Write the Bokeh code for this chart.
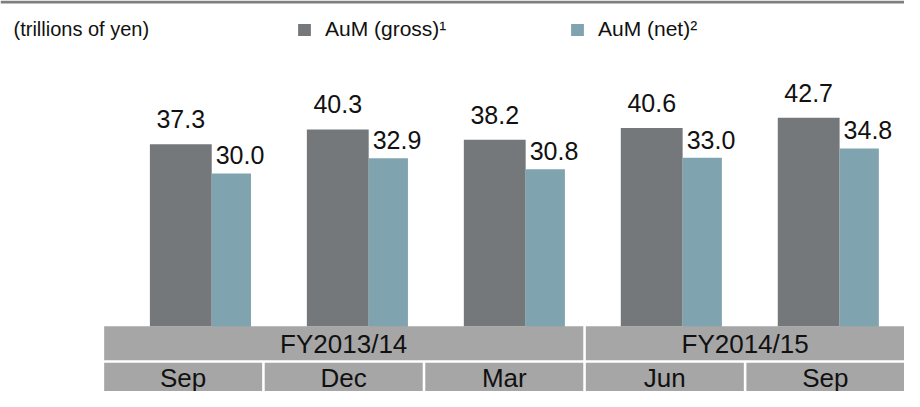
import numpy as np
from bokeh.plotting import figure
from bokeh.models import (ColumnDataSource, Range1d, LabelSet, Label, Legend,
                          LegendItem, Span)
from bokeh.core.properties import value
from bokeh.embed import file_html
from bokeh.resources import INLINE

# ---------------- data ----------------
periods = ["Sep", "Dec", "Mar", "Jun", "Sep"]
fiscal_years = ["FY2013/14", "FY2014/15"]
fy_period_counts = [3, 2]
aum_gross = [37.3, 40.3, 38.2, 40.6, 42.7]
aum_net = [30.0, 32.9, 30.8, 33.0, 34.8]
unit_label = "(trillions of yen)"
series_names = ["AuM (gross)\u00b9", "AuM (net)\u00b2"]

# ---------------- style ----------------
W, H = 904, 391
FONT = "Liberation Sans"
GROSS_C = "#75787A"
NET_C = "#80A3B0"
BAND_C = "#A6A6A6"
TOPLINE_C = "#7F7F7F"
TEXT_C = "#111111"
GROSS_W = 0.394
NET_W = 0.25
CELL_GAP = 0.016

p = figure(width=W, height=H, output_backend="svg", toolbar_location=None,
           x_range=Range1d(-1.1487, 4.6104), y_range=Range1d(-13.28, 66.68),
           min_border=0, x_axis_location=None, y_axis_location=None)
p.outline_line_color = None
p.grid.visible = False
p.extra_y_ranges = {"net": Range1d(-11.88, 63.21), "bandy": Range1d(0, H)}
p.extra_x_ranges = {"bandx": Range1d(-0.6456, 4.9847)}

idx = np.arange(len(periods), dtype=float)
src = ColumnDataSource(dict(
    xg=idx,
    xn=idx + GROSS_W / 2 + NET_W / 2,
    xnl=idx + GROSS_W / 2,
    gross=aum_gross,
    net=aum_net,
    gl=[f"{v:.1f}" for v in aum_gross],
    nl=[f"{v:.1f}" for v in aum_net],
))

r_gross = p.vbar(x="xg", top="gross", bottom=0, width=GROSS_W, color=GROSS_C,
                 line_color=None, source=src)
r_net = p.vbar(x="xn", top="net", bottom=0, width=NET_W, color=NET_C,
               line_color=None, y_range_name="net", source=src)

p.add_layout(LabelSet(x="xg", y="gross", text="gl", source=src,
                      text_align="center", text_baseline="alphabetic",
                      y_offset=16, text_font=value(FONT),
                      text_font_size="25px", text_color=TEXT_C))
p.add_layout(LabelSet(x="xnl", y="net", text="nl", source=src,
                      y_range_name="net",
                      text_align="left", text_baseline="alphabetic",
                      x_offset=4, y_offset=9, text_font=value(FONT),
                      text_font_size="25px", text_color=TEXT_C))

# ---------------- category band ----------------
n = len(periods)
fy_left = np.concatenate([[0], np.cumsum(fy_period_counts)[:-1]]).astype(float)
fy_right = np.cumsum(fy_period_counts).astype(float) - CELL_GAP
fy_right[-1] += 0.3
m_right = idx + 1 - CELL_GAP
m_right[-1] += 0.3
fy_src = ColumnDataSource(dict(left=fy_left, right=fy_right,
                               xc=(fy_left + np.cumsum(fy_period_counts) - CELL_GAP) / 2,
                               text=fiscal_years))
m_src = ColumnDataSource(dict(left=idx, right=m_right,
                              xc=idx + 0.5 - CELL_GAP / 2, text=periods))

FY_ROW = (31.2, 65.3)
M_ROW = (-10.0, 28.8)

p.quad(left="left", right="right", bottom=FY_ROW[0], top=FY_ROW[1],
       source=fy_src, color=BAND_C, line_color=None,
       x_range_name="bandx", y_range_name="bandy")
p.quad(left="left", right="right", bottom=M_ROW[0], top=M_ROW[1],
       source=m_src, color=BAND_C, line_color=None,
       x_range_name="bandx", y_range_name="bandy")
p.text(x="xc", y=47.5, text="text", source=fy_src,
       x_range_name="bandx", y_range_name="bandy",
       text_align="center", text_baseline="middle",
       text_font=value(FONT), text_font_size="26px", text_color=TEXT_C)
p.text(x="xc", y=14, text="text", source=m_src,
       x_range_name="bandx", y_range_name="bandy",
       text_align="center", text_baseline="middle",
       text_font=value(FONT), text_font_size="26px", text_color=TEXT_C)

# ---------------- top rule ----------------
p.add_layout(Span(location=H - 1.5, dimension="width", y_range_name="bandy",
                  line_color=TOPLINE_C, line_width=3))

# ---------------- unit label ----------------
p.add_layout(Label(x=13, y=363, x_units="screen", y_units="screen",
                   text=unit_label, text_font=FONT, text_font_size="20px",
                   text_color=TEXT_C, text_baseline="alphabetic"))

# ---------------- legend ----------------
legend = Legend(items=[LegendItem(label=series_names[0], renderers=[r_gross]),
                       LegendItem(label=series_names[1], renderers=[r_net])],
                orientation="horizontal", location=(296, 350),
                glyph_width=16, glyph_height=15, label_standoff=13,
                label_width=244, label_height=15, spacing=0,
                padding=0, margin=0, border_line_color=None,
                background_fill_alpha=0,
                label_text_font=FONT, label_text_font_size="21px",
                label_text_color=TEXT_C)
p.add_layout(legend)

open("out.html", "w").write(file_html(p, INLINE))
